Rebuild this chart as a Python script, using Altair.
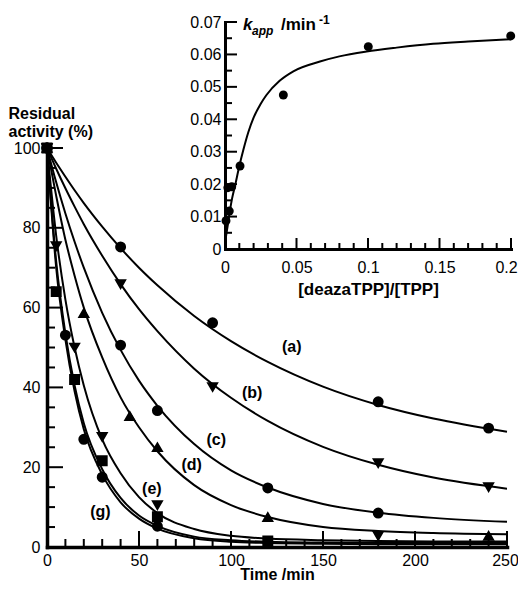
import altair as alt
import pandas as pd

FONT = "Liberation Sans"
W, H = 460, 399

# ---------------- main panel: measured points ----------------
a_t = [0, 40, 90, 180, 240]
a_v = [100, 75.2, 56.2, 36.4, 29.8]
b_t = [0, 40, 90, 180, 240]
b_v = [100, 65.9, 40.1, 21.0, 15.0]
c_t = [0, 40, 60, 120, 180]
c_v = [100, 50.6, 34.2, 14.8, 8.5]
d_t = [0, 20, 45, 60, 120, 240]
d_v = [100, 58.6, 32.8, 25.0, 7.5, 2.8]
e_t = [0, 5, 15, 30, 60, 180]
e_v = [100, 75.4, 50.0, 27.6, 10.5, 2.8]
f_t = [0, 5, 15, 30, 60, 120]
f_v = [100, 64.0, 42.0, 21.6, 7.6, 1.5]
g_t = [0, 10, 20, 30, 60]
g_v = [100, 53.1, 27.0, 17.5, 5.2]

# ---------------- main panel: fitted curves ----------------
curve_t = [0, 5, 10, 15, 20, 30, 40, 50, 60, 80, 100, 120, 150, 180, 210, 250]
a_fit = [100, 96.3, 92.8, 89.4, 86.2, 80.3, 74.9, 70.0, 65.6, 57.9, 51.6, 46.4, 40.2, 35.6, 32.2, 28.9]
b_fit = [100, 94.8, 89.9, 85.3, 80.9, 73.0, 65.9, 59.6, 54.1, 44.7, 37.4, 31.6, 25.1, 20.6, 17.4, 14.6]
c_fit = [100, 91.4, 83.6, 76.5, 70.0, 58.7, 49.4, 41.7, 35.4, 25.8, 19.2, 14.9, 10.8, 8.6, 7.3, 6.3]
d_fit = [100, 88.0, 77.0, 68.0, 60.0, 47.5, 37.5, 30.0, 24.0, 15.5, 10.5, 7.5, 5.0, 4.0, 3.5, 3.2]
e_fit = [100, 78.0, 62.0, 50.0, 40.5, 27.0, 18.5, 12.5, 8.5, 4.5, 2.8, 2.1, 1.7, 1.5, 1.4, 1.4]
f_fit = [100, 71.5, 53.5, 40.5, 31.0, 19.5, 12.3, 7.9, 5.3, 2.6, 1.7, 1.3, 1.1, 1.0, 1.0, 1.0]
g_fit = [100, 70.0, 52.0, 39.0, 29.5, 18.2, 11.2, 7.1, 4.6, 2.2, 1.3, 1.0, 0.8, 0.7, 0.7, 0.7]

# curve labels
label_text = ["(a)", "(b)", "(c)", "(d)", "(e)", "(g)"]
label_t = [133, 111.5, 92, 78.6, 57, 29]
label_v = [50.2, 38.5, 26.8, 20.5, 14.5, 8.7]

# main axes ticks
x_major = [0, 50, 100, 150, 200, 250]
x_minor = [10, 20, 30, 40, 60, 70, 80, 90, 110, 120, 130, 140,
           160, 170, 180, 190, 210, 220, 230, 240]
y_labels = [0, 20, 40, 60, 80, 100]
y_major = [20, 40, 60, 80, 100]
y_minor = [5, 10, 15, 25, 30, 35, 45, 50, 55, 65, 70, 75, 85, 90, 95]

# ---------------- inset ----------------
in_r = [0.0007, 0.003, 0.002, 0.0047, 0.0105, 0.0408, 0.1002, 0.1998]
in_k = [0.0087, 0.0117, 0.0189, 0.0192, 0.0256, 0.0475, 0.0624, 0.0657]
in_fit_r = [0, 0.002, 0.0035, 0.005, 0.007, 0.01, 0.0128, 0.0163, 0.02, 0.025, 0.029,
            0.038, 0.0478, 0.0664, 0.08, 0.099, 0.12, 0.1455, 0.17, 0.2]
in_fit_k = [0.002, 0.0075, 0.012, 0.0157, 0.0195, 0.0255, 0.0305, 0.036, 0.0405, 0.0448, 0.0475,
            0.0518, 0.0548, 0.0578, 0.0594, 0.0609, 0.0621, 0.0633, 0.064, 0.0647]
ix_major = [0, 0.05, 0.1, 0.15, 0.2]
ix_ticks_major = [0.05, 0.1, 0.15, 0.2]
ix_minor = [0.01, 0.02, 0.03, 0.04, 0.06, 0.07, 0.08, 0.09,
            0.11, 0.12, 0.13, 0.14, 0.16, 0.17, 0.18, 0.19]
iy_major = [0, 0.01, 0.02, 0.03, 0.04, 0.05, 0.06, 0.07]
iy_ticks_major = [0.01, 0.02, 0.03, 0.04, 0.05, 0.06, 0.07]
iy_minor = [0.005, 0.015, 0.025, 0.035, 0.045, 0.055, 0.065]

# ---------------- tables ----------------
series = [
    ("a", a_t, a_v, "circle"), ("b", b_t, b_v, "triangle-down"),
    ("c", c_t, c_v, "circle"), ("d", d_t, d_v, "triangle-up"),
    ("e", e_t, e_v, "triangle-down"), ("g", g_t, g_v, "circle"),
    ("f", f_t, f_v, "square"),
]
pts = pd.concat([pd.DataFrame({"series": s, "t": t, "v": v, "marker": m})
                 for s, t, v, m in series], ignore_index=True)
fits = pd.concat([pd.DataFrame({"series": s, "t": curve_t, "v": v})
                  for s, v in [("a", a_fit), ("b", b_fit), ("c", c_fit), ("d", d_fit),
                               ("e", e_fit), ("f", f_fit), ("g", g_fit)]],
                 ignore_index=True)
labels = pd.DataFrame({"txt": label_text, "t": label_t, "v": label_v})
ins_pts = pd.DataFrame({"r": in_r, "k": in_k})
ins_fit = pd.DataFrame({"r": in_fit_r, "k": in_fit_k})

# ---------------- scales ----------------
def xs_main():
    return alt.Scale(domain=[0, 250], nice=False, zero=False)

def ys_main():
    return alt.Scale(domain=[0, 100], nice=False, zero=False)

def xs_in():
    return alt.Scale(domain=[0, 0.2], range=[178, 464], nice=False, zero=False)

def ys_in():
    return alt.Scale(domain=[0, 0.07], range=[101, -126], nice=False, zero=False)

common = dict(grid=False, labelFont=FONT, labelColor="black", titleFont=FONT,
              titleColor="black", tickColor="black", domainColor="black")

# ---------------- layers ----------------
curves = alt.Chart(fits).mark_line(color="black", strokeWidth=2, interpolate="monotone").encode(
    x=alt.X("t:Q", scale=xs_main(), axis=alt.Axis(
        orient="bottom", values=x_major, format="d", ticks=False, tickSize=0,
        labelPadding=5, labelFontSize=16, labelFlush=False, labelOverlap=False,
        labelOffset={"condition": {"test": "datum.value == 250", "value": -2}, "value": 0},
        domainWidth=3.5, domainCap="square",
        title="Time /min", titleFontSize=16, titleFontWeight="bold",
        titleBaseline="alphabetic", titleY=32.5, **common)),
    y=alt.Y("v:Q", scale=ys_main(), axis=alt.Axis(
        orient="left", values=y_labels, format="d", ticks=False, tickSize=0,
        labelPadding=7, labelFontSize=16, labelFlush=False, labelOverlap=False,
        domainWidth=3.5, domainCap="square",
        title=["Residual", "activity (%)"], titleAngle=0, titleAlign="left",
        titleBaseline="alphabetic", titleX=-39, titleY=-30, titleLineHeight=18,
        titleFontSize=16, titleFontWeight="bold", **common)),
    detail="series:N",
)

points = alt.Chart(pts).mark_point(filled=True, fill="black", stroke="black",
                                   size=80, opacity=1).encode(
    x=alt.X("t:Q", scale=xs_main(), axis=None),
    y=alt.Y("v:Q", scale=ys_main(), axis=None),
    shape=alt.Shape("marker:N", scale=None),
)

curve_labels = alt.Chart(labels).mark_text(font=FONT, fontSize=16, fontWeight="bold",
                                           align="center", baseline="middle",
                                           color="black").encode(
    x=alt.X("t:Q", scale=xs_main(), axis=None),
    y=alt.Y("v:Q", scale=ys_main(), axis=None),
    text="txt:N",
)

# inward tick marks, placed through the scales
def xticks(vals, scale, ypos, length):
    return alt.Chart(pd.DataFrame({"val": vals})).mark_tick(
        orient="vertical", size=length, thickness=2, color="black", opacity=1
    ).encode(x=alt.X("val:Q", scale=scale, axis=None), y=alt.value(ypos))

def yticks(vals, scale, xpos, length):
    return alt.Chart(pd.DataFrame({"val": vals})).mark_tick(
        orient="horizontal", size=length, thickness=2, color="black", opacity=1
    ).encode(y=alt.Y("val:Q", scale=scale, axis=None), x=alt.value(xpos))

main_ticks = [
    xticks(x_major, xs_main(), H - 8, 16),
    xticks(x_minor, xs_main(), H - 4, 8),
    yticks(y_major, ys_main(), 8, 16),
    yticks(y_minor, ys_main(), 4, 8),
]
inset_ticks = [
    xticks(ix_ticks_major, xs_in(), 101 - 5.5, 11),
    xticks(ix_minor, xs_in(), 101 - 3, 6),
    yticks(iy_ticks_major, ys_in(), 178 + 6, 12),
    yticks(iy_minor, ys_in(), 178 + 3.5, 7),
]

inset_curve = alt.Chart(ins_fit).mark_line(color="black", strokeWidth=2,
                                           interpolate="monotone").encode(
    x=alt.X("r:Q", scale=xs_in(), axis=None),
    y=alt.Y("k:Q", scale=ys_in(), axis=None),
)

inset_points = alt.Chart(ins_pts).mark_circle(color="black", size=80, opacity=1).encode(
    x=alt.X("r:Q", scale=xs_in(), axis=alt.Axis(
        orient="bottom", offset=-(H - 101), values=ix_major, format="~g",
        ticks=False, tickSize=0, labelPadding=10, labelFontSize=16,
        labelFlush=False, labelOverlap=False,
        labelOffset={"condition": {"test": "datum.value == 0.2", "value": -5}, "value": 0},
        domainWidth=3, domainCap="square",
        title="[deazaTPP]/[TPP]", titleFontSize=17, titleFontWeight="bold",
        titleBaseline="alphabetic", titleY=45, **common)),
    y=alt.Y("k:Q", scale=ys_in(), axis=alt.Axis(
        orient="left", offset=-178, values=iy_major, format="~g",
        ticks=False, tickSize=0, labelPadding=4, labelFontSize=16,
        labelFlush=False, labelOverlap=False, domainWidth=3, domainCap="square",
        title=None, **common)),
)

one = pd.DataFrame({"z": [0]})
t_k = alt.Chart(one).mark_text(text="k", font=FONT, fontSize=17, fontWeight="bold",
                               fontStyle="italic", align="left", baseline="alphabetic",
                               color="black").encode(x=alt.value(196), y=alt.value(-118))
t_app = alt.Chart(one).mark_text(text="app", font=FONT, fontSize=12, fontWeight="bold",
                                 fontStyle="italic", align="left", baseline="alphabetic",
                                 color="black").encode(x=alt.value(205), y=alt.value(-113))
t_min = alt.Chart(one).mark_text(text="/min", font=FONT, fontSize=17, fontWeight="bold",
                                 align="left", baseline="alphabetic",
                                 color="black").encode(x=alt.value(234), y=alt.value(-118))
t_exp = alt.Chart(one).mark_text(text="-1", font=FONT, fontSize=12, fontWeight="bold",
                                 align="left", baseline="alphabetic",
                                 color="black").encode(x=alt.value(272), y=alt.value(-124))

chart = alt.layer(
    curves, *main_ticks, points, curve_labels, inset_curve, *inset_ticks, inset_points,
    t_k, t_app, t_min, t_exp,
).resolve_scale(x="independent", y="independent").properties(
    width=W, height=H,
    autosize=alt.AutoSizeParams(type="none"),
    padding={"left": 39, "top": 140, "right": 11, "bottom": 36},
    background="white",
).configure_view(stroke=None)

chart.save("out.html", embed_options={"renderer": "svg", "actions": False})
